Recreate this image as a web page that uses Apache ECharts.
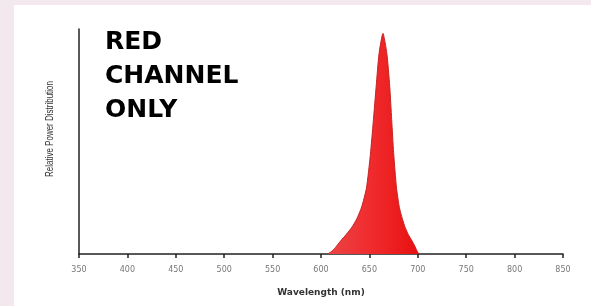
<!DOCTYPE html>
<html>
<head>
    <meta charset="utf-8">
    <title>Red channel spectrum</title>
    <script src="https://cdn.jsdelivr.net/npm/echarts@6/dist/echarts.min.js"></script>
    <style>
        html, body { margin: 0; padding: 0; background: #f3e8ee; }
        #main { width: 591px; height: 306px; }
    </style>
</head>
<body>
<div id="main"></div>
<script>
    // spectrum (relative power, peak = 1)
    var wavelengths = [607, 611, 615, 620, 626, 632, 637, 642, 647, 651, 654, 657, 660, 664,
        668, 671, 673, 675, 678, 681, 684, 687, 690, 694, 697, 699, 701];
    var power = [0, 0.012, 0.03, 0.058, 0.088, 0.122, 0.16, 0.213, 0.30, 0.45, 0.60, 0.76, 0.91, 1.0,
        0.91, 0.76, 0.61, 0.46, 0.30, 0.21, 0.16, 0.12, 0.09, 0.06, 0.035, 0.016, 0];
    var xTicks = [350, 400, 450, 500, 550, 600, 650, 700, 750, 800, 850];
    var titleLines = ['RED', 'CHANNEL', 'ONLY'];

    var points = wavelengths.map(function (w, i) { return [w, power[i]]; });

    var myChart = echarts.init(document.getElementById('main'));
    var option = {
        backgroundColor: '#f3e8ee',
        animation: false,
        grid: {left: 79, right: 28, top: 29, bottom: 52},
        graphic: [
            {
                type: 'rect', z: -10, silent: true,
                shape: {x: 14, y: 5, width: 577, height: 301},
                style: {fill: '#ffffff'}
            },
            {
                type: 'text', left: 105, top: 25,
                style: {
                    text: titleLines.join('\n'),
                    font: 'bold 25px "DejaVu Sans"',
                    lineHeight: 34,
                    fill: '#000000'
                }
            },
            {
                type: 'text', x: 50, y: 129, rotation: Math.PI / 2, scaleX: 0.8,
                style: {
                    text: 'Relative Power Distribution',
                    font: '10px "Liberation Sans"',
                    fill: '#333333',
                    align: 'center',
                    verticalAlign: 'middle'
                }
            }
        ],
        xAxis: {
            type: 'value',
            min: xTicks[0],
            max: xTicks[xTicks.length - 1],
            interval: 50,
            name: 'Wavelength (nm)',
            nameLocation: 'middle',
            nameGap: 34,
            nameTextStyle: {fontSize: 9, fontWeight: 'bold', color: '#333', fontFamily: 'DejaVu Sans'},
            axisLine: {lineStyle: {color: '#222', width: 1.5}},
            axisTick: {show: true, length: 4, lineStyle: {color: '#222', width: 1.5}},
            axisLabel: {fontSize: 8, color: '#777', margin: 12, fontFamily: 'DejaVu Sans'},
            splitLine: {show: false}
        },
        yAxis: {
            type: 'value',
            min: 0,
            max: 1.02,
            axisLine: {show: true, lineStyle: {color: '#222', width: 1.5}},
            axisTick: {show: false},
            axisLabel: {show: false},
            splitLine: {show: false}
        },
        series: [
            {
                type: 'line',
                data: points,
                symbol: 'none',
                smooth: 0.2,
                lineStyle: {color: '#c42424', width: 1},
                areaStyle: {
                    opacity: 1,
                    color: new echarts.graphic.LinearGradient(0, 0, 1, 0, [
                        {offset: 0, color: '#ec4446'},
                        {offset: 0.5, color: '#f02a2c'},
                        {offset: 1, color: '#e81010'}
                    ])
                }
            }
        ]
    };
    myChart.setOption(option);
</script>
</body>
</html>
